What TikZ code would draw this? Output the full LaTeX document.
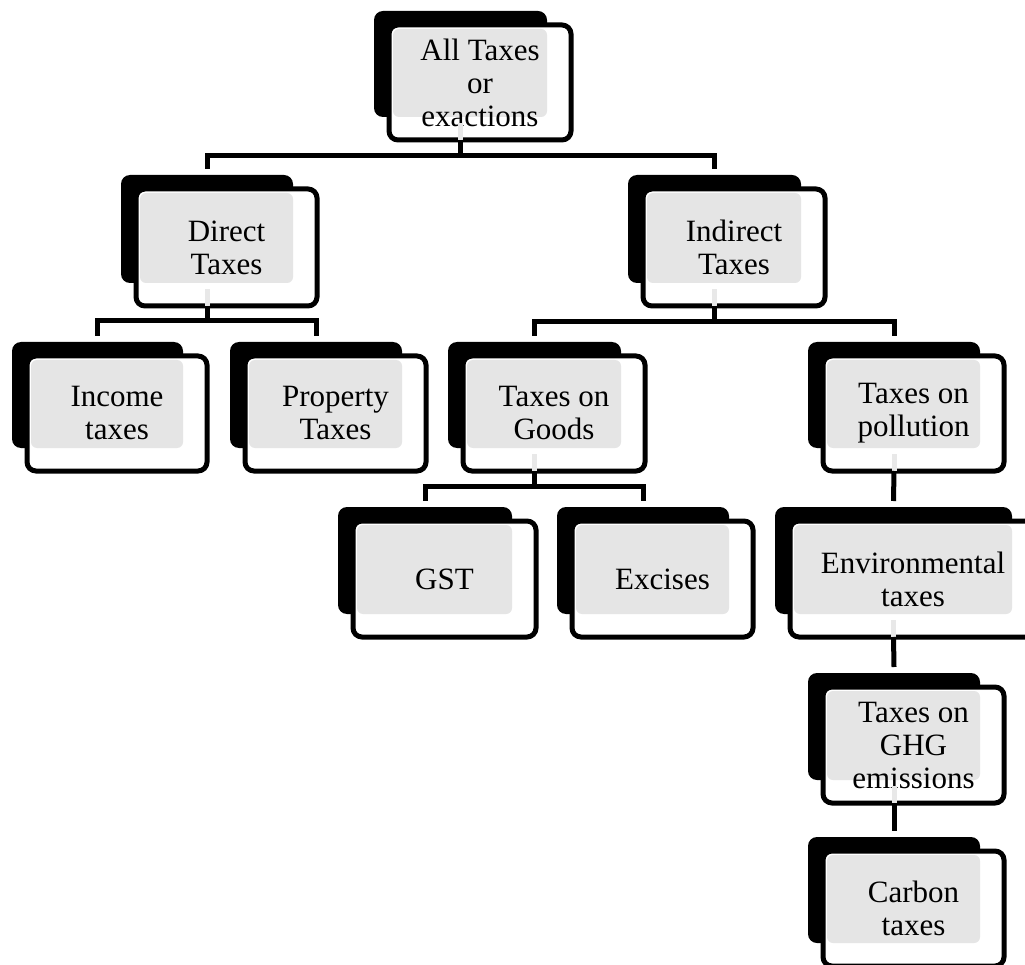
\documentclass[tikz,border=0pt]{standalone}
\usepackage{fontspec}
\setmainfont{Liberation Serif}
\definecolor{boxgray}{RGB}{229,229,229}
\definecolor{ghostgray}{RGB}{232,232,232}
\tikzset{
  frontline/.style={line width=5pt, draw=black},
  conn/.style={line width=5pt, draw=black},
  ghostline/.style={line width=5pt, draw=ghostgray},
  boxtext/.style={align=center, inner sep=0pt, font=\fontsize{31}{33}\selectfont}
}
\newcommand{\taxbox}[6]{%
  \fill[black, rounded corners=9pt] (#2,#3) rectangle (#4,#5);
  \draw[frontline, fill=white, rounded corners=9pt] ({#2+15},{#3+14}) rectangle ({#4+24},{#5+23});
  \fill[boxgray, rounded corners=6pt] ({#2+19},{#3+18}) rectangle (#4,#5);
  \node[boxtext] (#1) at ({(#2+#4+39)/2},{(#3+#5+37)/2}) {#6};
  \coordinate (#1-top) at ({(#2+#4)/2},{#3-6});
  \coordinate (#1-bot) at ({(#2+#4)/2},{#5+23});
}
\begin{document}
\begin{tikzpicture}[x=1pt,y=-1pt]
\useasboundingbox (0,0) rectangle (1025,965);
\taxbox{root}{374}{11}{547}{117}{All Taxes\\or\\exactions}
\taxbox{dir}{121}{175}{293}{283}{Direct\\Taxes}
\taxbox{ind}{628}{175}{801}{283}{Indirect\\Taxes}
\taxbox{inc}{12}{342}{183}{448}{Income\\taxes}
\taxbox{prop}{230}{342}{402}{448}{Property\\Taxes}
\taxbox{goods}{448}{342}{621}{448}{Taxes on\\Goods}
\taxbox{poll}{808}{342}{980}{448}{Taxes on\\pollution}
\taxbox{gst}{338}{507}{512}{614}{GST}
\taxbox{exc}{557}{507}{729}{614}{Excises}
\taxbox{env}{775}{507}{1012}{614}{Environmental\\taxes}
\taxbox{ghg}{808}{673}{980}{780}{Taxes on\\GHG\\emissions}
\taxbox{carb}{808}{837}{980}{943}{Carbon\\taxes}
% ghost strips below parents
\foreach \p in {root,dir,ind,goods,poll,env,ghg}{
  \draw[ghostline] (\p-bot) -- ++(0,-17);
}
% connectors
\draw[conn] (root-bot) -- ++(0,16) -| (dir-top);
\draw[conn] (root-bot) -- ++(0,16) -| (ind-top);
\draw[conn] (dir-bot) -- ++(0,15) -| (inc-top);
\draw[conn] (dir-bot) -- ++(0,15) -| (prop-top);
\draw[conn] (ind-bot) -- ++(0,16) -| (goods-top);
\draw[conn] (ind-bot) -- ++(0,16) -| (poll-top);
\draw[conn] (goods-bot) -- ++(0,15) -| (gst-top);
\draw[conn] (goods-bot) -- ++(0,15) -| (exc-top);
\draw[conn] (poll-bot) -- (env-top);
\draw[conn] (env-bot) -- (ghg-top);
\draw[conn] (ghg-bot) -- (carb-top);
\end{tikzpicture}
\end{document}
